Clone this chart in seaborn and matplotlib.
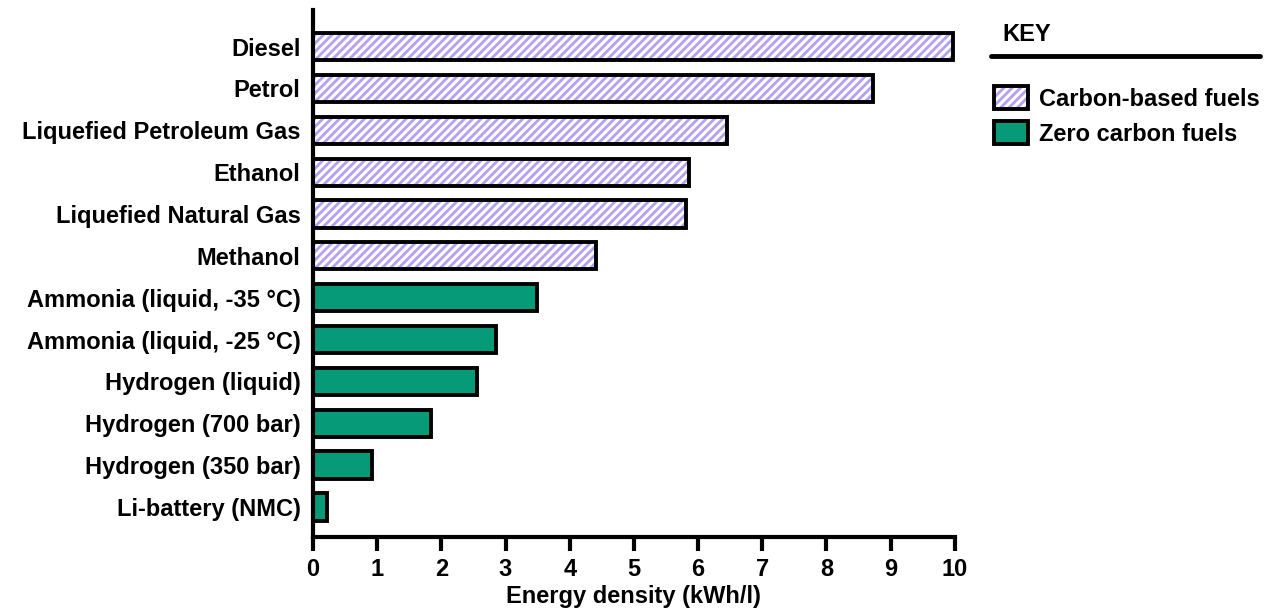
import matplotlib
matplotlib.use("Agg")
import matplotlib.pyplot as plt
import matplotlib.patches as mpatches
import seaborn as sns
import pandas as pd

# Data
fuels = ["Diesel", "Petrol", "Liquefied Petroleum Gas", "Ethanol",
         "Liquefied Natural Gas", "Methanol",
         "Ammonia (liquid, -35 \u00b0C)", "Ammonia (liquid, -25 \u00b0C)",
         "Hydrogen (liquid)", "Hydrogen (700 bar)", "Hydrogen (350 bar)",
         "Li-battery (NMC)"]
energy = [9.97, 8.72, 6.45, 5.86, 5.81, 4.41, 3.49, 2.85, 2.55, 1.84, 0.92, 0.22]
groups = ["Carbon-based fuels"] * 6 + ["Zero carbon fuels"] * 6
x_ticks = list(range(0, 11))

purple = "#b3a0f0"
green = "#079a78"

sns.set_style("ticks")
plt.rcParams['font.family'] = ['Liberation Sans', 'DejaVu Sans']
plt.rcParams['font.weight'] = 'bold'
plt.rcParams['hatch.linewidth'] = 2.0
for k in ['text.color', 'axes.labelcolor', 'xtick.color', 'ytick.color', 'axes.edgecolor']:
    plt.rcParams[k] = 'black'

FS = 17

df = pd.DataFrame({"fuel": fuels, "energy": energy, "group": groups})

fig = plt.figure(figsize=(12.8, 6.11), dpi=100)
ax = fig.add_axes([0.2445, 0.121, 0.5015, 0.863])

sns.barplot(data=df, x="energy", y="fuel", hue="group",
            palette={"Carbon-based fuels": "white", "Zero carbon fuels": green},
            saturation=1, dodge=False, width=0.65, legend=False, ax=ax,
            edgecolor="black", linewidth=2.8)

# hatch the carbon-based bars: purple stripes, then a black outline on top
for p in list(ax.patches):
    fc = p.get_facecolor()
    if p.get_width() > 0 and fc[0] > 0.99 and fc[1] > 0.99 and fc[2] > 0.99:
        p.set_hatch("////")
        p.set_edgecolor(purple)
        p.set_linewidth(0)
        outline = mpatches.Rectangle(p.get_xy(), p.get_width(), p.get_height(),
                                     facecolor="none", edgecolor="black",
                                     linewidth=2.8, zorder=p.get_zorder() + 0.1)
        ax.add_patch(outline)

ax.set_xlim(0, 10)
ax.set_ylim(len(fuels) - 1 + 0.72, -0.88)
ax.set_xticks(x_ticks)
ax.set_xticklabels([str(t) for t in x_ticks], fontsize=FS, fontweight="bold")
ax.set_yticks(range(len(fuels)))
ax.set_yticklabels(fuels, fontsize=FS, fontweight="bold")
ax.set_xlabel("Energy density (kWh/l)", fontsize=FS, fontweight="bold", labelpad=3)
ax.set_ylabel("")

sns.despine(ax=ax)
for s in ["left", "bottom"]:
    ax.spines[s].set_linewidth(3)
ax.tick_params(axis="x", length=10, width=3, pad=5)
ax.tick_params(axis="y", length=0, pad=9)

# legend / key
fig.text(0.783, 0.943, "KEY", fontsize=FS, fontweight="bold", ha="left", va="center")
fig.add_artist(plt.Line2D([0.774, 0.984], [0.908, 0.908], color="black",
                          linewidth=3.5, transform=fig.transFigure))
carbon_h = (mpatches.Patch(facecolor="white", edgecolor=purple, hatch="////", linewidth=0),
            mpatches.Patch(facecolor="none", edgecolor="black", linewidth=2.8))
zero_h = mpatches.Patch(facecolor=green, edgecolor="black", linewidth=2.8)
leg = fig.legend(handles=[carbon_h, zero_h],
                 labels=["Carbon-based fuels", "Zero carbon fuels"],
                 loc="upper left", bbox_to_anchor=(0.769, 0.874),
                 frameon=False, fontsize=FS, handlelength=1.45, handleheight=1.1,
                 handletextpad=0.45, labelspacing=0.45, borderaxespad=0)
for t in leg.get_texts():
    t.set_fontweight("bold")

fig.savefig("out.png", dpi=100)
